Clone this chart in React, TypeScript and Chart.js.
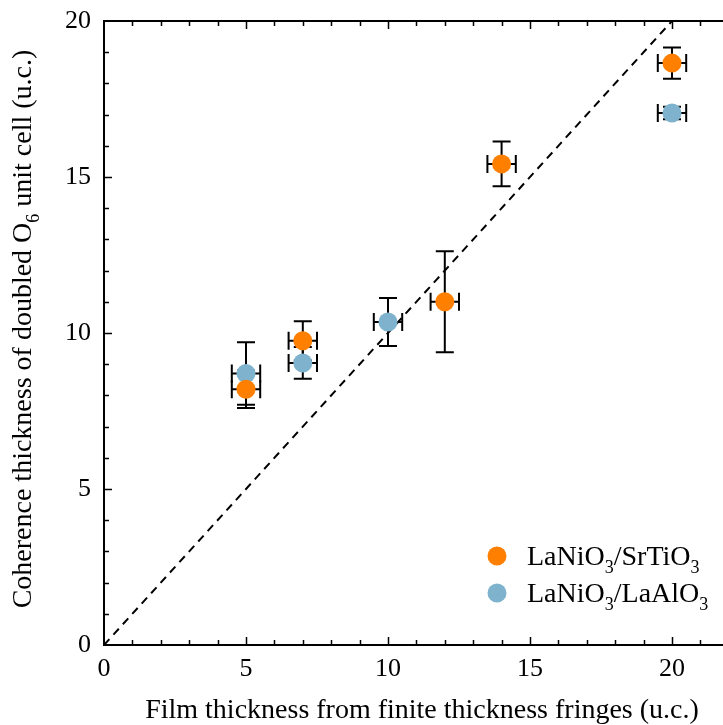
import React, { useEffect, useRef } from "react";
import { Chart, registerables } from "chart.js";

Chart.register(...registerables);

// LaNiO3/SrTiO3
const xSTO = [5, 7, 12, 14, 20];
const ySTO = [8.2, 9.75, 11.0, 15.42, 18.65];
const xErrSTO = [0.5, 0.5, 0.5, 0.5, 0.5];
const yErrSTO = [0.6, 0.63, 1.62, 0.72, 0.5];

// LaNiO3/LaAlO3
const xLAO = [5, 7, 10, 20];
const yLAO = [8.7, 9.04, 10.35, 17.05];
const xErrLAO = [0.5, 0.5, 0.5, 0.5];
const yErrLAO = [1.0, 0.51, 0.77, 0.2];

// guide line y = x
const lineX = [0, 20];
const lineY = [0, 20];

const xTicks = [0, 5, 10, 15, 20];
const yTicks = [0, 5, 10, 15, 20];

const ORANGE = "rgb(255,127,0)";
const BLUE = "rgb(127,179,205)";
const FONT = "'Liberation Serif', 'Times New Roman', serif";

type Part = { t: string; sub?: boolean };

function drawRich(ctx: CanvasRenderingContext2D, parts: Part[], x: number, y: number, size: number, align: "left" | "center") {
  const subSize = Math.round(size * 0.66);
  const widths = parts.map((p) => {
    ctx.font = `${p.sub ? subSize : size}px ${FONT}`;
    return ctx.measureText(p.t).width;
  });
  const total = widths.reduce((a, b) => a + b, 0);
  let cx = align === "center" ? x - total / 2 : x;
  ctx.textAlign = "left";
  ctx.textBaseline = "alphabetic";
  parts.forEach((p, i) => {
    ctx.font = `${p.sub ? subSize : size}px ${FONT}`;
    ctx.fillText(p.t, cx, p.sub ? y + size * 0.3 : y);
    cx += widths[i];
  });
}

const errorBarsPlugin = {
  id: "errorBars",
  beforeDatasetsDraw(chart: any) {
    const ctx = chart.ctx;
    const xs = chart.scales.x;
    const ys = chart.scales.y;
    const cap = 9;
    ctx.save();
    ctx.strokeStyle = "#000";
    ctx.lineWidth = 2;
    const draw = (X: number[], Y: number[], XE: number[], YE: number[]) => {
      X.forEach((xv, i) => {
        const px = xs.getPixelForValue(xv);
        const py = ys.getPixelForValue(Y[i]);
        const x0 = xs.getPixelForValue(xv - XE[i]);
        const x1 = xs.getPixelForValue(xv + XE[i]);
        const y0 = ys.getPixelForValue(Y[i] - YE[i]);
        const y1 = ys.getPixelForValue(Y[i] + YE[i]);
        ctx.beginPath();
        ctx.moveTo(x0, py); ctx.lineTo(x1, py);
        ctx.moveTo(x0, py - cap); ctx.lineTo(x0, py + cap);
        ctx.moveTo(x1, py - cap); ctx.lineTo(x1, py + cap);
        ctx.moveTo(px, y0); ctx.lineTo(px, y1);
        ctx.moveTo(px - cap, y0); ctx.lineTo(px + cap, y0);
        ctx.moveTo(px - cap, y1); ctx.lineTo(px + cap, y1);
        ctx.stroke();
      });
    };
    draw(xLAO, yLAO, xErrLAO, yErrLAO);
    draw(xSTO, ySTO, xErrSTO, yErrSTO);
    ctx.restore();
  },
};

const framePlugin = {
  id: "frame",
  afterDraw(chart: any) {
    const ctx = chart.ctx;
    const { left, right, top, bottom } = chart.chartArea;
    const xs = chart.scales.x;
    const ys = chart.scales.y;
    ctx.save();
    ctx.strokeStyle = "#000";
    ctx.lineWidth = 2;
    ctx.beginPath();
    ctx.moveTo(right + 2, top);
    ctx.lineTo(left, top);
    ctx.lineTo(left, bottom);
    ctx.lineTo(right + 2, bottom);
    ctx.stroke();
    ctx.lineWidth = 1.5;
    ctx.beginPath();
    for (let v = 1; v <= Math.floor(xs.max); v++) {
      const p = Math.round(xs.getPixelForValue(v)) + 0.5;
      const len = v % 5 === 0 ? 8 : 5;
      ctx.moveTo(p, bottom); ctx.lineTo(p, bottom - len);
      ctx.moveTo(p, top); ctx.lineTo(p, top + len);
    }
    for (let v = 1; v < ys.max; v++) {
      const p = Math.round(ys.getPixelForValue(v)) + 0.5;
      const len = v % 5 === 0 ? 8 : 5;
      ctx.moveTo(left, p); ctx.lineTo(left + len, p);
    }
    ctx.stroke();

    ctx.fillStyle = "#000";
    // x title
    drawRich(ctx, [{ t: "Film thickness from finite thickness fringes (u.c.)" }], 422, 718, 28, "center");
    // y title
    ctx.save();
    ctx.translate(31, 329);
    ctx.rotate(-Math.PI / 2);
    drawRich(ctx, [
      { t: "Coherence thickness of doubled O" },
      { t: "6", sub: true },
      { t: " unit cell (u.c.)" },
    ], 0, 0, 28, "center");
    ctx.restore();

    // legend
    const items = [
      { c: ORANGE, parts: [{ t: "LaNiO" }, { t: "3", sub: true }, { t: "/SrTiO" }, { t: "3", sub: true }] },
      { c: BLUE, parts: [{ t: "LaNiO" }, { t: "3", sub: true }, { t: "/LaAlO" }, { t: "3", sub: true }] },
    ];
    items.forEach((it, i) => {
      const cy = 556 + i * 37;
      ctx.fillStyle = it.c;
      ctx.beginPath();
      ctx.arc(497, cy, 9.5, 0, Math.PI * 2);
      ctx.fill();
      ctx.fillStyle = "#000";
      drawRich(ctx, it.parts as Part[], 527, cy + 9, 28, "left");
    });
    ctx.restore();
  },
};

export default function App() {
  const ref = useRef<HTMLCanvasElement | null>(null);
  useEffect(() => {
    if (!ref.current) return;
    const chart = new Chart(ref.current, {
      type: "scatter",
      data: {
        datasets: [
          {
            label: "LaNiO3/SrTiO3",
            data: xSTO.map((x, i) => ({ x, y: ySTO[i] })),
            backgroundColor: ORANGE,
            borderWidth: 0,
            pointRadius: 9.5,
            order: 0,
          },
          {
            label: "LaNiO3/LaAlO3",
            data: xLAO.map((x, i) => ({ x, y: yLAO[i] })),
            backgroundColor: BLUE,
            borderWidth: 0,
            pointRadius: 9.5,
            order: 1,
          },
          {
            type: "line",
            label: "y = x",
            data: lineX.map((x, i) => ({ x, y: lineY[i] })),
            borderColor: "#000",
            borderWidth: 2,
            borderDash: [8, 6],
            pointRadius: 0,
            fill: false,
            order: 2,
          } as any,
        ],
      },
      options: {
        animation: false,
        responsive: false,
        maintainAspectRatio: false,
        layout: { autoPadding: false, padding: { top: 21, left: 0, right: 0, bottom: 0 } },
        plugins: { legend: { display: false }, tooltip: { enabled: false } },
        scales: {
          x: {
            type: "linear",
            min: 0,
            max: (20 * 619) / 568,
            grid: { display: false, drawTicks: false },
            border: { display: false },
            afterBuildTicks: (s: any) => { s.ticks = xTicks.map((v) => ({ value: v })); },
            afterFit: (s: any) => { s.height = 80; s.paddingLeft = 0; s.paddingRight = 0; },
            ticks: { color: "#000", font: { family: FONT, size: 26 }, padding: 9, maxRotation: 0 },
          },
          y: {
            type: "linear",
            min: 0,
            max: 20,
            grid: { display: false, drawTicks: false },
            border: { display: false },
            afterBuildTicks: (s: any) => { s.ticks = yTicks.map((v) => ({ value: v })); },
            afterFit: (s: any) => { s.width = 104; s.paddingTop = 0; s.paddingBottom = 0; },
            ticks: { color: "#000", font: { family: FONT, size: 26 }, padding: 13 },
          },
        },
      },
      plugins: [errorBarsPlugin, framePlugin],
    } as any);
    return () => chart.destroy();
  }, []);
  return (
    <div style={{ position: "absolute", left: 0, top: 0, width: 723, height: 725, background: "#fff" }}>
      <canvas ref={ref} width={723} height={725} style={{ width: 723, height: 725, display: "block" }} />
    </div>
  );
}
